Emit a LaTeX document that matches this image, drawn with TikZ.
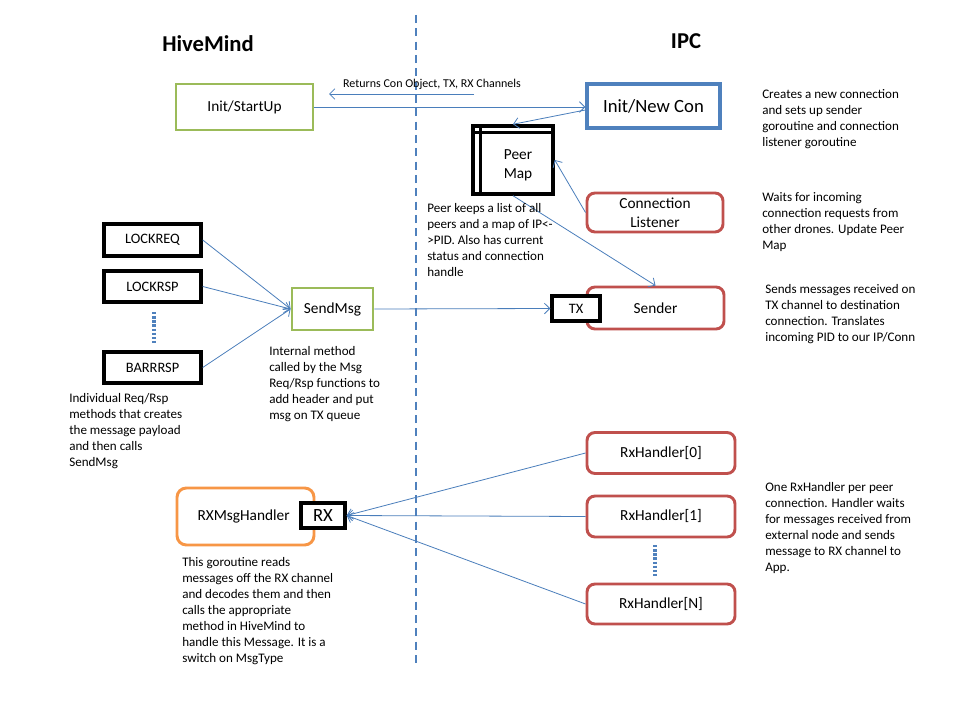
\documentclass[tikz,border=0pt]{standalone}
\usepackage{fontspec}
\setmainfont{Carlito}
\usetikzlibrary{arrows.meta}
\definecolor{cgreen}{HTML}{9BBB59}
\definecolor{cblue}{HTML}{4F81BD}
\definecolor{cred}{HTML}{C0504D}
\definecolor{corange}{HTML}{F79646}
\definecolor{carrow}{HTML}{4A7EBB}
\tikzset{
  gbox/.style={draw=cgreen, line width=2.2pt, inner sep=0pt, font=\fontsize{11.5}{13}\selectfont},
  bbox/.style={draw=cblue, line width=2.5pt, inner sep=0pt, font=\fontsize{14}{16}\selectfont},
  rbox/.style={draw=cred, line width=2.2pt, rounded corners=6pt, inner sep=0pt, align=center, font=\fontsize{11.5}{14}\selectfont},
  obox/.style={draw=corange, line width=2.2pt, rounded corners=7pt, inner sep=0pt, font=\fontsize{11.5}{13}\selectfont},
  kbox/.style={draw=black, line width=2.6pt, inner sep=0pt, fill=white, font=\fontsize{10.8}{12}\selectfont},
  note/.style={anchor=north west, align=left, inner sep=0pt, font=\fontsize{9.8}{12}\selectfont},
  arr/.style={draw=carrow, line width=0.6pt, -{Straight Barb[length=4pt,width=8pt]}},
  dotline/.style={draw=cblue, line width=2.4pt, dash pattern=on 1.8pt off 1.3pt},
  title/.style={font=\bfseries\fontsize{17}{19}\selectfont}
}
\begin{document}
\begin{tikzpicture}[x=0.75pt,y=-0.75pt]
\useasboundingbox[fill=white] (0,0) rectangle (960,720);
% divider
\draw[cblue, line width=1.6pt, dash pattern=on 6pt off 4pt] (416,15) coordinate (dtop) -- (416,668) coordinate (dbot);
\node[title] (hm) at (208,44) {HiveMind};
\node[title] (ipc) at (686,41) {IPC};
% top row
\node[gbox, minimum width=102.75pt, minimum height=34.5pt] (init) at (244.5,107) {Init/StartUp};
\node[bbox, minimum width=99.75pt, minimum height=33pt] (newcon) at (653.5,106) {Init/New Con};
\coordinate (retS) at (474,94);
\coordinate (retE) at (329,94);
\draw[arr] (retS) -- (retE);
\node[font=\fontsize{9}{10}\selectfont, inner sep=0pt] (retlbl) at (432,84) {Returns Con Object, TX, RX Channels};
\draw[arr] (init.east) -- (newcon.west |- init.east);
% peer map
\node[draw, line width=2.6pt, minimum width=60pt, minimum height=51pt, inner sep=0pt] (peer) at (513,160) {};
\draw[line width=2.6pt] ([xshift=6.75pt]peer.north west) -- ([xshift=6.75pt]peer.south west);
\draw[line width=2.6pt] ([yshift=-6pt]peer.north west) -- ([yshift=-6pt]peer.north east);
\node[align=center, inner sep=0pt, font=\fontsize{11.5}{14.5}\selectfont] (peertxt) at (518,165) {Peer\\Map};
\draw[arr] ([yshift=-3pt]newcon.west) -- (peer.north);
\node[rbox, minimum width=102pt, minimum height=29.25pt] (listener) at (655,212.5) {Connection\\Listener};
\draw[arr] (listener.west) -- (peer.east);
\node[rbox, minimum width=102.75pt, minimum height=31.5pt] (sender) at (655.5,308) {Sender};
\draw[arr] (peer.south) -- (sender.north);
\node[kbox, minimum width=36pt, minimum height=18.75pt] (tx) at (576,308.5) {TX};
% left messages
\node[kbox, minimum width=72.75pt, minimum height=24pt] (lockreq) at (152.5,240) {LOCKREQ};
\node[kbox, minimum width=72.75pt, minimum height=23.25pt] (lockrsp) at (152.5,286.5) {LOCKRSP};
\node[kbox, minimum width=72.75pt, minimum height=23.25pt] (barrrsp) at (152.5,367.5) {BARRRSP};
\draw[dotline] (154,312) coordinate (d1a) -- (154,343) coordinate (d1b);
\node[gbox, minimum width=60.75pt, minimum height=31.5pt] (sendmsg) at (332.5,309) {SendMsg};
\draw[arr] (lockreq.east) -- (sendmsg.west);
\draw[arr] (lockrsp.east) -- (sendmsg.west);
\draw[arr] (barrrsp.east) -- (sendmsg.west);
\draw[arr] (sendmsg.east) -- (tx.west);
% rx
\node[rbox, minimum width=111pt, minimum height=30.75pt] (rx0) at (661,453) {RxHandler[0]};
\node[rbox, minimum width=111pt, minimum height=30.75pt] (rx1) at (661,516.5) {RxHandler[1]};
\node[rbox, minimum width=111pt, minimum height=30pt] (rxn) at (661,604) {RxHandler[N]};
\draw[dotline] (655,545) coordinate (d2a) -- (655,577) coordinate (d2b);
\node[obox, minimum width=102.75pt, minimum height=42.75pt, text width=96pt, align=left] (rxh) at (245.5,516.5) {\hspace{12pt}RXMsgHandler};
\node[kbox, minimum width=33pt, minimum height=18.75pt, font=\fontsize{14}{16}\selectfont] (rx) at (323,515.5) {RX};
\draw[arr] (rx0.west) -- (rx.east);
\draw[arr] (rx1.west) -- (rx.east);
\draw[arr] (rxn.west) -- (rx.east);
% notes
\node[note] (n1) at (762,89) {Creates a new  connection\\and  sets up sender\\goroutine and connection\\listener goroutine};
\node[note] (n2) at (762,192) {Waits for incoming\\connection requests from\\other  drones. Update Peer\\Map};
\node[note] (n3) at (427,203) {Peer keeps a  list of all\\peers and a map of IP<-\\>PID. Also has current\\status and connection\\handle};
\node[note] (n4) at (765,284) {Sends messages received on\\TX channel to destination\\connection. Translates\\incoming PID to our IP/Conn};
\node[note] (n5) at (269,346) {Internal method\\called by the  Msg\\Req/Rsp functions to\\add header  and put\\msg on TX  queue};
\node[note] (n6) at (69,393) {Individual Req/Rsp\\methods  that creates\\the  message payload\\and then  calls\\SendMsg};
\node[note] (n7) at (765,482) {One RxHandler per   peer\\connection. Handler waits\\for messages received from\\external node and sends\\message to  RX  channel to\\App.};
\node[note] (n8) at (182,557) {This goroutine reads\\messages off the  RX channel\\and decodes them  and then\\calls the appropriate\\method  in HiveMind to\\handle this Message. It is  a\\switch on MsgType};
\end{tikzpicture}
\end{document}
